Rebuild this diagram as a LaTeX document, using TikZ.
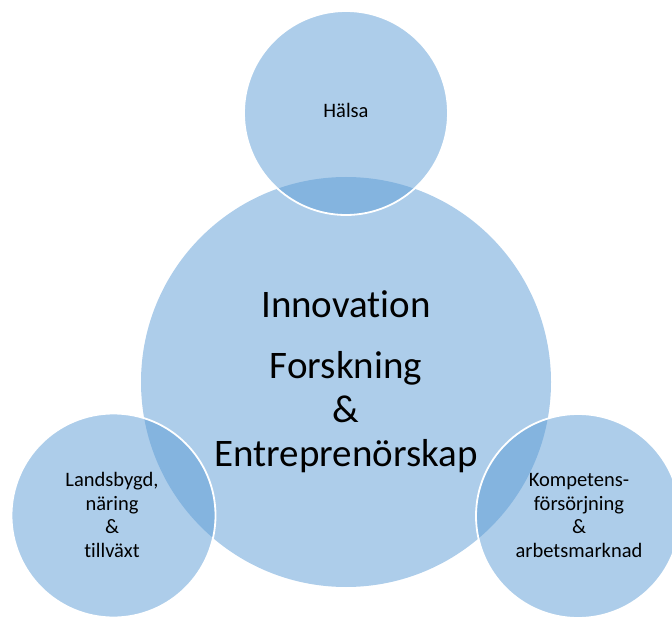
\documentclass[tikz,border=0pt]{standalone}
\usepackage{fontspec}
\setmainfont{Carlito}[Ligatures=NoCommon]
\definecolor{venn}{RGB}{91,155,213}
\tikzset{
  bigc/.style={circle, fill=venn, fill opacity=0.5, minimum size=410pt, inner sep=0pt},
  smallc/.style={circle, fill=venn, fill opacity=0.5, draw=white, draw opacity=1, line width=1.8pt, minimum size=204pt, inner sep=0pt},
  bigtxt/.style={font=\fontsize{39}{44}\selectfont, text=black, align=center, inner sep=0pt},
  smalltxt/.style={font=\fontsize{20.5}{23.5}\selectfont, text=black, align=center, inner sep=0pt}
}
\begin{document}
\begin{tikzpicture}[x=1pt,y=1pt]
\useasboundingbox (0,0) rectangle (672,-617);
\clip (0,0) rectangle (672,-617);
\node[bigc] (big) at (346,-382) {};
\node[smallc] (top) at (346,-113) {};
\node[smallc] (left) at (113.5,-515.5) {};
\node[smallc] (right) at (578,-516) {};
\node[bigtxt, anchor=base] (innov) at (346,-318) {Innovation};
\node[bigtxt, anchor=base] (forsk) at (346,-466) {Forskning\\\&\\Entreprenörskap};
\node[smalltxt, anchor=base] (halsa) at (346,-118) {Hälsa};
\node[smalltxt, anchor=base] (lt) at (112,-557) {Landsbygd,\\näring\\\&\\tillväxt};
\node[smalltxt, anchor=base] (rt) at (579,-557) {Kompetens-\\försörjning\\\&\\arbetsmarknad};
\end{tikzpicture}
\end{document}
